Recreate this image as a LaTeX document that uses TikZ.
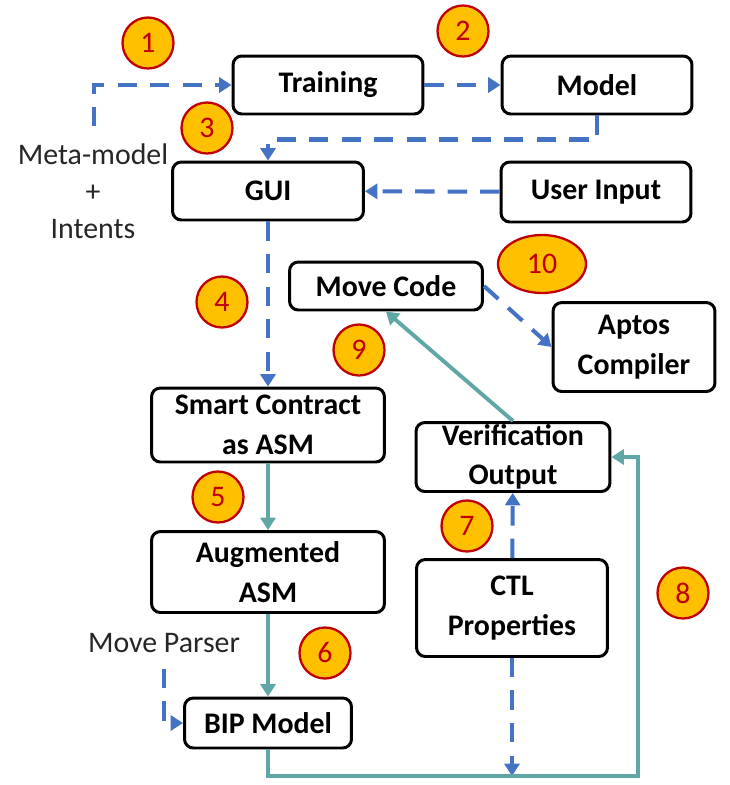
\documentclass[tikz,border=0pt]{standalone}
\usepackage{fontspec}
\setmainfont{Carlito}
\usetikzlibrary{arrows.meta,shapes.geometric}
\definecolor{flowblue}{HTML}{4472C4}
\definecolor{flowteal}{RGB}{94,167,166}
\definecolor{badgefill}{HTML}{FFC000}
\definecolor{badgeline}{HTML}{C00000}
\tikzset{
  box/.style={draw, line width=1.7pt, rounded corners=5pt, align=center, inner sep=0pt,
    font=\fontsize{17}{22.5}\selectfont\bfseries},
  badge/.style={circle, draw=badgeline, fill=badgefill, text=badgeline, line width=1.3pt,
    minimum size=1.02cm, inner sep=0pt, font=\fontsize{17}{20}\selectfont},
  note/.style={align=center, text=black!85, font=\fontsize{17}{21}\selectfont},
  flow/.style={draw=flowblue, line width=2.3pt, dash pattern=on 11pt off 7.5pt,
    -{Triangle[length=7pt,width=8.5pt]}},
  solid flow/.style={draw=flowteal, line width=2.2pt,
    -{Triangle[length=7pt,width=8.5pt]}}
}
\begin{document}
\begin{tikzpicture}[x=0.02cm, y=-0.02cm]
  \useasboundingbox (0,0) rectangle (730,785);
  % boxes
  \node[box, minimum width=3.8cm, minimum height=1.16cm] (train) at (328,85) {Training};
  \node[box, minimum width=3.8cm, minimum height=1.16cm] (model) at (597,85) {Model};
  \node[box, minimum width=3.82cm, minimum height=1.16cm] (gui) at (268,191) {GUI};
  \node[box, minimum width=3.8cm, minimum height=1.2cm] (user) at (596,192) {User Input};
  \node[box, minimum width=3.86cm, minimum height=0.96cm] (move) at (386,286) {Move Code};
  \node[box, minimum width=3.24cm, minimum height=1.78cm] (aptos) at (634,347) {Aptos\\Compiler};
  \node[box, minimum width=4.66cm, minimum height=1.48cm] (smart) at (268,425) {Smart Contract\\as ASM};
  \node[box, minimum width=3.88cm, minimum height=1.38cm] (verif) at (513,457) {Verification\\Output};
  \node[box, minimum width=4.66cm, minimum height=1.62cm] (aug) at (268,572) {Augmented\\ASM};
  \node[box, minimum width=3.82cm, minimum height=1.94cm] (ctl) at (512,608) {CTL\\Properties};
  \node[box, minimum width=3.34cm, minimum height=1.0cm] (bip) at (268,723) {BIP Model};
  % free labels
  \node[note] (meta) at (93,191) {Meta-model\\+\\Intents};
  \node[note] (parser) at (164,643) {Move Parser};
  \coordinate (loop) at (638,776);
  % numbered steps
  \node[badge] (s1) at (148,43) {1};
  \node[badge] (s2) at (463,31) {2};
  \node[badge] (s3) at (207,128) {3};
  \node[badge] (s4) at (222,302) {4};
  \node[badge] (s5) at (218,497) {5};
  \node[badge] (s6) at (325,653) {6};
  \node[badge] (s7) at (467,526) {7};
  \node[badge] (s8) at (683,593) {8};
  \node[badge] (s9) at (359,350) {9};
  \node[badge, ellipse, minimum width=1.76cm, minimum height=1.16cm] (s10) at (542,264) {10};
  % dashed flows
  \draw[flow] (meta.north) ++(1,-11) |- (train.west);
  \draw[flow] (train) -- (model);
  \draw[flow] (model.south) -- ++(0,24) -| (gui.north);
  \draw[flow] (user) -- (gui);
  \draw[flow] (gui) -- (smart);
  \draw[flow] (move.east) -- (aptos.west);
  \draw[flow] (ctl) -- (verif);
  \draw[flow] (ctl.south) -- (ctl.south |- loop);
  \draw[flow] (parser.south) ++(0,10) |- (bip.west);
  % solid flows
  \begin{scope}[solid flow]
    \draw (smart) -- (aug);
    \draw (aug) -- (bip);
    \draw (bip.south) |- (loop) |- (verif.east);
    \draw (verif.north) -- (move.south);
  \end{scope}
\end{tikzpicture}
\end{document}
